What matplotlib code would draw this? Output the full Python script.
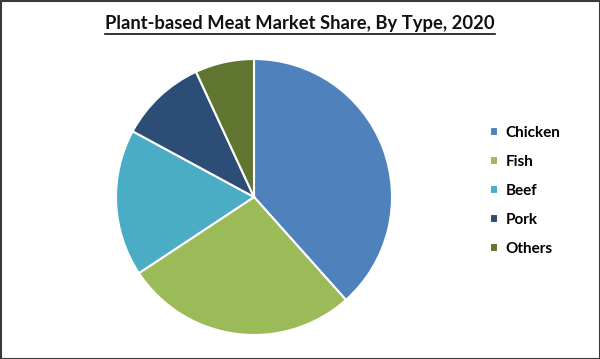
import matplotlib
matplotlib.use('Agg')
from matplotlib import pyplot as plt
from matplotlib.patches import Rectangle
from matplotlib.lines import Line2D

# data
labels = ['Chicken', 'Fish', 'Beef', 'Pork', 'Others']
shares = [38.4, 27.3, 17.2, 10.2, 6.9]
colors = ['#4F81BD', '#9BBB59', '#4BACC6', '#2C4D75', '#5F7530']
title = 'Plant-based Meat Market Share, By Type, 2020'

W, H = 600, 359
fig = plt.figure(figsize=(W/100, H/100), dpi=100)

# pie axes, square in pixels
cx, cy, r = 254, 197, 138
half = 140
ax = fig.add_axes([(cx-half)/W, (H-cy-half)/H, 2*half/W, 2*half/H])
wedges, _ = ax.pie(shares, colors=colors, startangle=90, counterclock=False,
                   radius=1.0, wedgeprops=dict(edgecolor='white', linewidth=1.5))
ax.set_xlim(-half/r, half/r)
ax.set_ylim(-half/r, half/r)
ax.set_aspect('equal')
ax.axis('off')

# legend
fig.legend(wedges, labels, loc='upper left', bbox_to_anchor=(476/W, 1-112/H),
           frameon=False, handlelength=0.55, handleheight=0.55, handletextpad=0.5,
           labelspacing=0.98, prop=dict(family='Lato', weight='bold', size=11))

# title, underlined
t = fig.text(0.5, 1-24/H, title, ha='center', va='center',
             fontsize=13.2, fontweight='bold', family='Lato', color='#111111')
fig.canvas.draw()
bb = t.get_window_extent()
fig.add_artist(Line2D([bb.x0/W, bb.x1/W], [1-34/H, 1-34/H], color='#111111',
                      linewidth=1.2, transform=fig.transFigure))

# outer frame
fig.add_artist(Rectangle((0.5/W, 0.5/H), 1-1/W, 1-1/H, transform=fig.transFigure,
                         fill=False, edgecolor='#3a3a3a', linewidth=1.5))

fig.savefig('out.png', dpi=100)
